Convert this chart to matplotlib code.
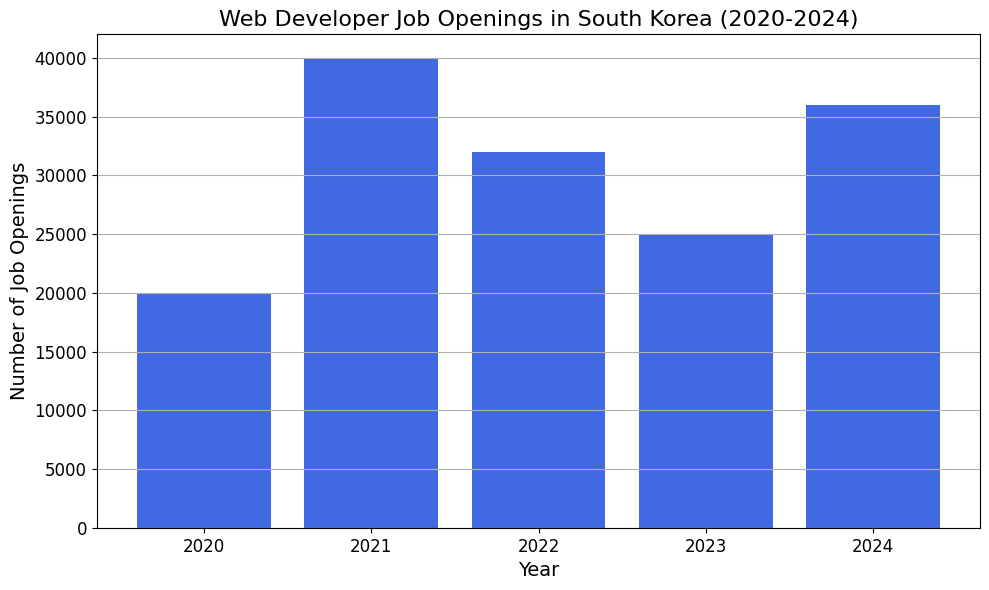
import matplotlib
matplotlib.use("Agg")
import matplotlib.pyplot as plt

# data
years = ["2020", "2021", "2022", "2023", "2024"]
openings = [20000, 40000, 32000, 25000, 36000]

fig, ax = plt.subplots(figsize=(9.89, 5.9), dpi=100)
ax.bar(years, openings, color="royalblue")

ax.set_title("Web Developer Job Openings in South Korea (2020-2024)", fontsize=16)
ax.set_xlabel("Year", fontsize=14)
ax.set_ylabel("Number of Job Openings", fontsize=14)
ax.tick_params(axis="both", labelsize=12)
ax.grid(axis="y")

# match the reference margins
fig.subplots_adjust(left=0.098, right=0.991, top=0.942, bottom=0.105)
plt.savefig("out.png", dpi=100)
